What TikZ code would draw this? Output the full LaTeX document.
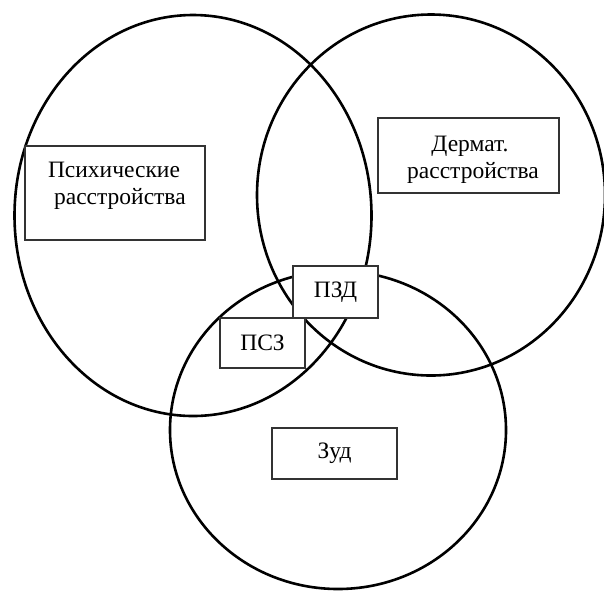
\documentclass[tikz,border=0pt]{standalone}
\usepackage{fontspec}
\setmainfont{Liberation Serif}
\begin{document}
\begin{tikzpicture}[x=1pt,y=-1pt,
  ring/.style={draw=black,line width=2.6pt},
  lbox/.style={draw=black!80,line width=1.1pt,fill=white,rectangle,inner sep=0pt},
  txt/.style={font=\fontsize{23.5}{27}\selectfont,align=center,inner sep=0pt}]
\useasboundingbox (0,0) rectangle (604,590);
\draw[ring] (193,215.5) ellipse [x radius=178.5, y radius=200.5];
\draw[ring] (431,195) ellipse [x radius=174, y radius=180.5];
\draw[ring] (338,430) ellipse [x radius=168, y radius=159];
\node[lbox,minimum width=180,minimum height=94] (psy) at (115,193) {};
\node[txt] (psyt) at (114,186) {Психические\\\ \ расстройства};
\node[lbox,minimum width=181,minimum height=75] (derm) at (468.5,155.5) {};
\node[txt] (dermt) at (470,160) {Дермат.\\\ расстройства};
\node[lbox,minimum width=125,minimum height=51] (zud) at (334.5,453.5) {};
\node[txt] (zudt) at (zud) {Зуд};
\node[lbox,minimum width=85,minimum height=52] (pzd) at (335.5,292) {};
\node[txt] (pzdt) at (pzd) {ПЗД};
\node[lbox,minimum width=85,minimum height=50] (psz) at (262.5,343) {};
\node[txt] (pszt) at (psz) {ПСЗ};
\end{tikzpicture}
\end{document}
